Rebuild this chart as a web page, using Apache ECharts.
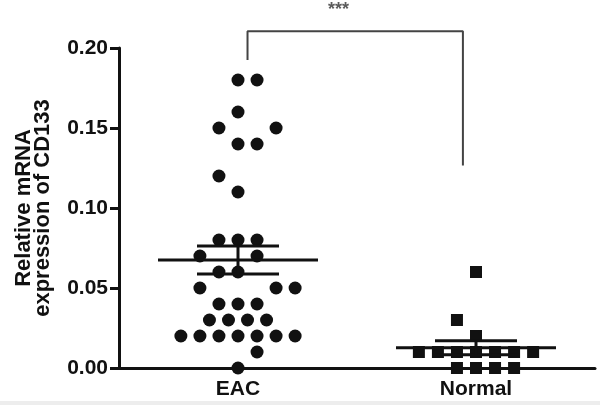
<!DOCTYPE html>
<html>
<head>
<meta charset="utf-8">
<script src="https://cdn.jsdelivr.net/npm/echarts@6/dist/echarts.min.js"></script>
<style>html,body{margin:0;padding:0;background:#fff}#c{width:600px;height:405px}</style>
</head>
<body>
<div id="c"></div>
<script>
const categories = ['EAC', 'Normal'];
const eacValues = [0.18,0.18,0.16,0.15,0.15,0.14,0.14,0.12,0.11,0.08,0.08,0.08,0.07,0.07,0.06,0.06,0.05,0.05,0.05,0.04,0.04,0.04,0.03,0.03,0.03,0.03,0.02,0.02,0.02,0.02,0.02,0.02,0.02,0.01,0.00];
const eacSlots  = [0,1,0,-1,2,0,1,-1,0,-1,0,1,-2,1,-1,0,-2,2,3,-1,0,1,-1.5,-0.5,0.5,1.5,-3,-2,-1,0,1,2,3,1,0];
const normalValues = [0.06,0.03,0.02,0.01,0.01,0.01,0.01,0.01,0.01,0.01,0.00,0.00,0.00,0.00];
const normalSlots  = [0,-1,0,-3,-2,-1,0,1,2,3,-1,0,1,2];
const groupMeans = [0.0675, 0.0127];
const groupSems = [0.0088, 0.0044];
const yMin = 0, yMax = 0.20, yStep = 0.05;
const bracketX = [1.04, 1.945];
const bracketTop = 0.2105;
const bracketLegs = [0.1925, 0.1265];
const sigLabel = '***';

const SLOT = 0.08;
const FONT = '"Liberation Sans", Arial, Helvetica, sans-serif';
const INK = '#111111';

const eacData = eacValues.map((v, i) => [1 + eacSlots[i] * SLOT, v]);
const normalData = normalValues.map((v, i) => [2 + normalSlots[i] * SLOT, v]);
const statData = groupMeans.map((m, i) => [i + 1, m, groupSems[i]]);

const chart = echarts.init(document.getElementById('c'), null, {renderer: 'canvas'});
chart.setOption({
  backgroundColor: '#ffffff',
  animation: false,
  textStyle: {fontFamily: FONT},
  grid: {left: 119, right: 5, top: 48, bottom: 37, containLabel: false, outerBoundsMode: 'none'},
  xAxis: [
    {
      type: 'category', data: categories, boundaryGap: true,
      axisLine: {lineStyle: {color: INK, width: 3}},
      axisTick: {alignWithLabel: true, length: 7, lineStyle: {color: INK, width: 3}},
      axisLabel: {color: '#111', fontSize: 21, fontWeight: 'bold', fontFamily: FONT, margin: 11},
      splitLine: {show: false}
    },
    {type: 'value', min: 0.5, max: 2.5, show: false}
  ],
  yAxis: {
    type: 'value', min: yMin, max: yMax, interval: yStep,
    name: 'Relative mRNA\nexpression of CD133',
    nameLocation: 'middle', nameGap: 67, nameRotate: 90,
    nameTextStyle: {color: '#111', fontSize: 22, fontWeight: 'bold', fontFamily: FONT, lineHeight: 19},
    axisLine: {show: true, lineStyle: {color: INK, width: 3}},
    axisTick: {show: true, length: 9, lineStyle: {color: INK, width: 3}},
    axisLabel: {color: '#111', fontSize: 21, fontWeight: 'bold', fontFamily: FONT, margin: 11,
      formatter: v => v.toFixed(2)},
    splitLine: {show: false}
  },
  graphic: [{type: 'rect', left: 0, bottom: 0, shape: {width: 600, height: 4}, style: {fill: '#ededed'}, silent: true}],
  series: [
    {
      name: 'EAC', type: 'scatter', xAxisIndex: 1, yAxisIndex: 0,
      symbol: 'circle', symbolSize: 13, itemStyle: {color: INK, opacity: 1}, data: eacData, z: 3
    },
    {
      name: 'Normal', type: 'scatter', xAxisIndex: 1, yAxisIndex: 0,
      symbol: 'rect', symbolSize: 12, itemStyle: {color: INK, opacity: 1}, data: normalData, z: 3
    },
    {
      name: 'stats', type: 'custom', xAxisIndex: 1, yAxisIndex: 0, z: 4,
      data: statData,
      renderItem: function (params, api) {
        const x = api.value(0), m = api.value(1), s = api.value(2);
        const c = api.coord([x, m]);
        const hi = api.coord([x, m + s]);
        const lo = api.coord([x, m - s]);
        const st = {stroke: INK, lineWidth: 3};
        return {
          type: 'group',
          children: [
            {type: 'line', shape: {x1: c[0] - 80, y1: c[1], x2: c[0] + 80, y2: c[1]}, style: st},
            {type: 'line', shape: {x1: hi[0] - 41, y1: hi[1], x2: hi[0] + 41, y2: hi[1]}, style: st},
            {type: 'line', shape: {x1: lo[0] - 41, y1: lo[1], x2: lo[0] + 41, y2: lo[1]}, style: st},
            {type: 'line', shape: {x1: c[0], y1: hi[1], x2: c[0], y2: lo[1]}, style: st}
          ]
        };
      }
    },
    {
      name: 'bracket', type: 'line', xAxisIndex: 1, yAxisIndex: 0, clip: false,
      showSymbol: false, symbol: 'none', silent: true,
      lineStyle: {color: '#444', width: 2},
      data: [[bracketX[0], bracketLegs[0]], [bracketX[0], bracketTop], [bracketX[1], bracketTop], [bracketX[1], bracketLegs[1]]]
    },
    {
      name: 'sig', type: 'scatter', xAxisIndex: 1, yAxisIndex: 0, clip: false,
      symbolSize: 1, itemStyle: {color: 'rgba(0,0,0,0)'}, silent: true,
      label: {show: true, position: 'inside', formatter: sigLabel, color: '#333', fontSize: 18, fontWeight: 'bold', fontFamily: FONT},
      data: [[(bracketX[0] + bracketX[1]) / 2 - 0.07, 0.2235]]
    }
  ]
});
</script>
</body>
</html>
